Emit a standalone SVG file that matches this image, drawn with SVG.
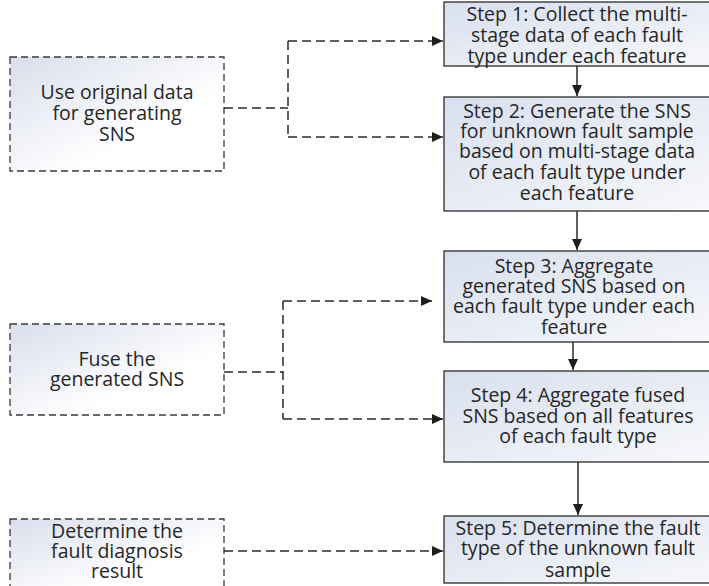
<svg xmlns="http://www.w3.org/2000/svg" width="709" height="586" viewBox="0 0 709 586">
<style>
text{font-family:"Open Sans","Noto Sans","Liberation Sans",sans-serif;font-size:19.5px;fill:#262626;text-anchor:middle}
.step{fill:url(#gStep);stroke:#3a3a3a;stroke-width:1.4}
.side{fill:url(#gSide);stroke:#3a3a3a;stroke-width:1.3;stroke-dasharray:7 4}
.dash{fill:none;stroke:#2a2a2a;stroke-width:1.5;stroke-dasharray:9 5}
.solid{fill:none;stroke:#2a2a2a;stroke-width:1.5}
</style>
<defs>
<linearGradient id="gStep" x1="0" y1="0" x2="1" y2="1">
<stop offset="0" stop-color="#d8dfee"/>
<stop offset="1" stop-color="#f7f8fb"/>
</linearGradient>
<linearGradient id="gSide" x1="0" y1="0" x2="1" y2="1">
<stop offset="0" stop-color="#d9deec"/>
<stop offset="0.65" stop-color="#ffffff"/>
<stop offset="1" stop-color="#ffffff"/>
</linearGradient>
<marker id="ah" viewBox="0 0 11 10" refX="11" refY="5" markerWidth="11" markerHeight="10" markerUnits="userSpaceOnUse" orient="auto">
<path d="M0,0 L11,5 L0,10 z" fill="#1e1e1e"/>
</marker>
</defs>

<g id="side1">
<rect class="side" x="10" y="57" width="214" height="114"/>
<text x="117" y="99">Use original data</text>
<text x="117" y="120">for generating</text>
<text x="117" y="141">SNS</text>
</g>
<g id="side2">
<rect class="side" x="10" y="324" width="214" height="91"/>
<text x="117" y="366">Fuse the</text>
<text x="117" y="386">generated SNS</text>
</g>
<g id="side3">
<rect class="side" x="10" y="519" width="214" height="75"/>
<text x="117" y="538">Determine the</text>
<text x="117" y="558">fault diagnosis</text>
<text x="117" y="578">result</text>
</g>

<g id="step1">
<rect class="step" x="444" y="2" width="266" height="64"/>
<text x="577" y="21">Step 1: Collect the multi-</text>
<text x="577" y="42">stage data of each fault</text>
<text x="577" y="63">type under each feature</text>
</g>
<g id="step2">
<rect class="step" x="444" y="97" width="266" height="114"/>
<text x="577" y="118">Step 2: Generate the SNS</text>
<text x="577" y="138">for unknown fault sample</text>
<text x="577" y="158">based on multi-stage data</text>
<text x="577" y="179">of each fault type under</text>
<text x="577" y="200">each feature</text>
</g>
<g id="step3">
<rect class="step" x="444" y="251" width="266" height="91"/>
<text x="574" y="273">Step 3: Aggregate</text>
<text x="574" y="293">generated SNS based on</text>
<text x="574" y="313">each fault type under each</text>
<text x="574" y="334">feature</text>
</g>
<g id="step4">
<rect class="step" x="444" y="371" width="266" height="91"/>
<text x="578" y="402">Step 4:  Aggregate fused</text>
<text x="578" y="423">SNS based on all features</text>
<text x="578" y="443">of each fault type</text>
</g>
<g id="step5">
<rect class="step" x="444" y="516" width="266" height="67"/>
<text x="578" y="535">Step 5: Determine the fault</text>
<text x="578" y="555">type of the unknown fault</text>
<text x="578" y="577">sample</text>
</g>

<g id="connectors">
<path class="dash" d="M224,108 H288"/>
<path class="dash" d="M288,41 V137"/>
<path class="dash" d="M288,41 H443" marker-end="url(#ah)"/>
<path class="dash" d="M288,137 H443" marker-end="url(#ah)"/>
<path class="dash" d="M224,372 H283"/>
<path class="dash" d="M283,301 V419"/>
<path class="dash" d="M283,301 H432" marker-end="url(#ah)"/>
<path class="dash" d="M283,419 H443" marker-end="url(#ah)"/>
<path class="dash" d="M224,551 H443" marker-end="url(#ah)"/>
<path class="solid" d="M577,66 V96" marker-end="url(#ah)"/>
<path class="solid" d="M577,211 V250" marker-end="url(#ah)"/>
<path class="solid" d="M573,342 V370" marker-end="url(#ah)"/>
<path class="solid" d="M578,462 V515" marker-end="url(#ah)"/>
</g>
</svg>
